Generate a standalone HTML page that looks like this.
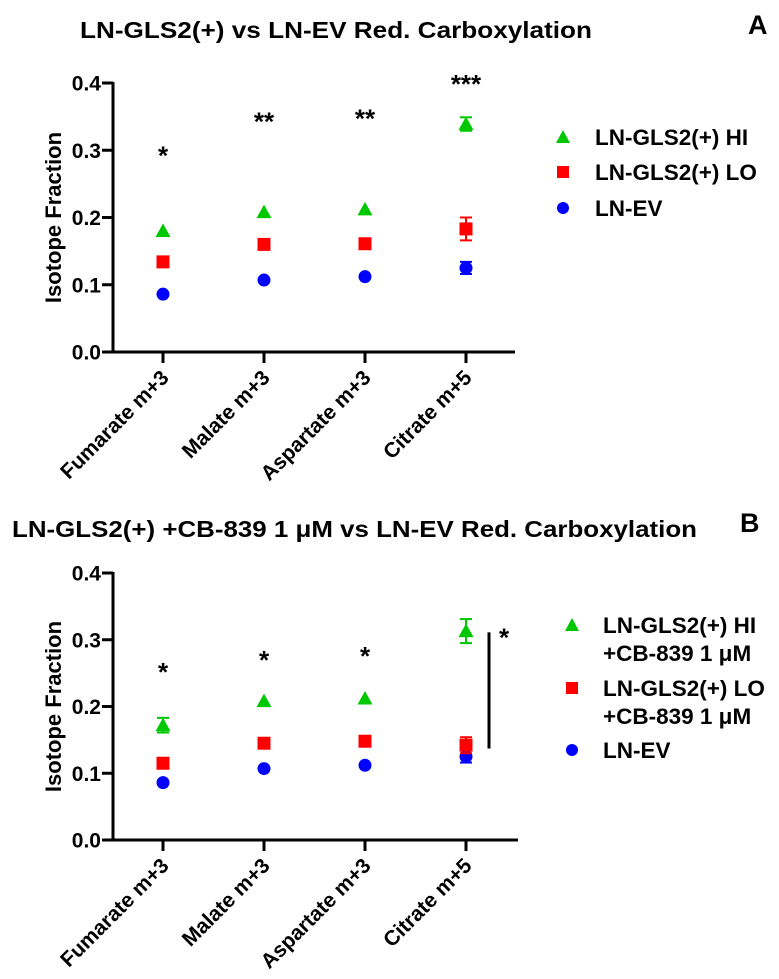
<!DOCTYPE html>
<html><head><meta charset="utf-8"><style>
html,body{margin:0;padding:0;background:#fff;}
svg{display:block;font-family:"Liberation Sans",Arial,sans-serif;font-weight:bold;}
</style></head><body>
<svg id="fig" width="779" height="979" viewBox="0 0 779 979"></svg>
<script>
const categories=["Fumarate m+3","Malate m+3","Aspartate m+3","Citrate m+5"];
const yTicks=[0,0.1,0.2,0.3,0.4];
const yTickLabels=["0.0","0.1","0.2","0.3","0.4"];
const aHi=[0.180,0.208,0.212,0.339];
const aHiErr=[0,0,0,0.010];
const aLo=[0.134,0.160,0.161,0.183];
const aLoErr=[0,0,0,0.017];
const aEv=[0.086,0.107,0.112,0.125];
const aEvErr=[0,0,0,0.009];
const aStars=["*","**","**","***"];
const aStarVals=[0.300,0.350,0.355,0.406];
const bHi=[0.172,0.208,0.212,0.313];
const bHiErr=[0.011,0,0,0.018];
const bLo=[0.115,0.145,0.148,0.142];
const bLoErr=[0,0,0,0.012];
const bEv=[0.086,0.107,0.112,0.125];
const bEvErr=[0,0,0,0.009];
const bStars=["*","*","*"];
const bStarVals=[0.259,0.277,0.283];
const bBracket=[0.137,0.311];

const NS="http://www.w3.org/2000/svg";
const svg=document.getElementById('fig');
function el(tag,attrs,parent,text){const e=document.createElementNS(NS,tag);for(const k in attrs)e.setAttribute(k,attrs[k]);if(text!==undefined)e.textContent=text;(parent||svg).appendChild(e);return e;}
const GREEN="#00c800",RED="#ff0000",BLUE="#0000ff";

function panel(p){
  const g=el('g',{});
  
  
  const X0=113,X1=p.xEnd,Y0=p.y0,PPU=p.ppu;
  const xS=i=>163+i*101;
  const yS=v=>Y0-v*PPU;
  const t=el('text',{x:p.titleX,y:p.titleY,'font-size':23,textLength:p.titleW,lengthAdjust:'spacingAndGlyphs'},g,p.title);
  
  
  const L=el('text',{x:p.letterX,y:p.letterY,'font-size':27},g,p.letter);
  
  
  const ya=el('line',{x1:X0,y1:yS(0.4)-1,x2:X0,y2:Y0+1.5,stroke:'#000','stroke-width':3},g);
  
  
  const xa=el('line',{x1:X0-1.5,y1:Y0,x2:X1,y2:Y0,stroke:'#000','stroke-width':3},g);
  
  
  yTicks.forEach((v,i)=>{
    el('line',{x1:X0-11,y1:yS(v),x2:X0,y2:yS(v),stroke:'#000','stroke-width':3},g);
    const tl=el('text',{x:101,y:yS(v)+7.5,'font-size':21,'text-anchor':'end'},g,yTickLabels[i]);
    
    
  });
  const yt=el('text',{x:0,y:0,'font-size':22,'text-anchor':'middle',transform:`translate(61,${(yS(0.4)+Y0)/2}) rotate(-90)`},g,'Isotope Fraction');
  
  
  categories.forEach((c,i)=>{
    el('line',{x1:xS(i),y1:Y0,x2:xS(i),y2:Y0+11,stroke:'#000','stroke-width':3},g);
    const xl=el('text',{x:0,y:0,'font-size':21,'text-anchor':'end',transform:`translate(${xS(i)+7},${Y0+27}) rotate(-45)`},g,c);
    
    
  });
  function err(i,v,e,col){
    if(!e)return;
    const x=xS(i);
    const eg=el('g',{stroke:col,'stroke-width':2},g);
    
    
    el('line',{x1:x,y1:yS(v+e),x2:x,y2:yS(v-e)},eg);
    el('line',{x1:x-6,y1:yS(v+e),x2:x+6,y2:yS(v+e)},eg);
    el('line',{x1:x-6,y1:yS(v-e),x2:x+6,y2:yS(v-e)},eg);
  }
  p.ev.forEach((v,i)=>{err(i,v,p.evErr[i],BLUE);
    const m=el('circle',{cx:xS(i),cy:yS(v),r:6.5,fill:BLUE},g);
    
    });
  p.lo.forEach((v,i)=>{err(i,v,p.loErr[i],RED);
    const m=el('rect',{x:xS(i)-6.5,y:yS(v)-6.5,width:13,height:13,fill:RED},g);
    
    });
  p.hi.forEach((v,i)=>{err(i,v,p.hiErr[i],GREEN);
    const x=xS(i),y=yS(v);
    const m=el('polygon',{points:`${x},${y-7.5} ${x+7.5},${y+6} ${x-7.5},${y+6}`,fill:GREEN},g);
    
    });
  p.stars.forEach((s,i)=>{
    const st=el('text',{x:xS(i),y:yS(p.starVals[i])+14,'font-size':26,'text-anchor':'middle'},g,s);
    
    
  });
  if(p.bracket){
    const bl=el('line',{x1:489,y1:yS(p.bracket[0]),x2:489,y2:yS(p.bracket[1]),stroke:'#000','stroke-width':3},g);
    
    
    const bs=el('text',{x:504,y:yS(p.bracket[1])+14,'font-size':26,'text-anchor':'middle'},g,'*');
    
    
  }
  p.legend.forEach(it=>{
    const lg=el('g',{},g);
    
    
    const x=it.mx,y=it.y;
    if(it.shape==='tri')el('polygon',{points:`${x},${y-7} ${x+7},${y+6} ${x-7},${y+6}`,fill:GREEN},lg);
    else if(it.shape==='sq')el('rect',{x:x-6,y:y-6,width:12,height:12,fill:RED},lg);
    else el('circle',{cx:x,cy:y,r:6,fill:BLUE},lg);
    it.lines.forEach((ln,k)=>el('text',{x:it.tx,y:y+8+k*28,'font-size':22.5},lg,ln));
  });
}
panel({name:'panel-a',title:'LN-GLS2(+) vs LN-EV  Red.  Carboxylation',titleX:80,titleY:38,titleW:512,letter:'A',letterX:748,letterY:34,
  y0:352,ppu:672.5,xEnd:515,hi:aHi,hiErr:aHiErr,lo:aLo,loErr:aLoErr,ev:aEv,evErr:aEvErr,stars:aStars,starVals:aStarVals,
  legend:[{shape:'tri',mx:563,tx:595,y:137,lines:['LN-GLS2(+)  HI']},{shape:'sq',mx:563,tx:595,y:172,lines:['LN-GLS2(+) LO']},{shape:'ci',mx:563,tx:595,y:208,lines:['LN-EV']}]});
panel({name:'panel-b',title:'LN-GLS2(+) +CB-839 1 \u03bcM vs LN-EV Red. Carboxylation',titleX:12,titleY:537,titleW:685,letter:'B',letterX:740,letterY:532,
  y0:840,ppu:667.5,xEnd:518,hi:bHi,hiErr:bHiErr,lo:bLo,loErr:bLoErr,ev:bEv,evErr:bEvErr,stars:bStars,starVals:bStarVals,bracket:bBracket,
  legend:[{shape:'tri',mx:572,tx:603,y:625,lines:['LN-GLS2(+)  HI','+CB-839 1 \u03bcM']},{shape:'sq',mx:572,tx:603,y:688,lines:['LN-GLS2(+) LO','+CB-839 1 \u03bcM']},{shape:'ci',mx:572,tx:603,y:750,lines:['LN-EV']}]});
</script>
</body></html>
